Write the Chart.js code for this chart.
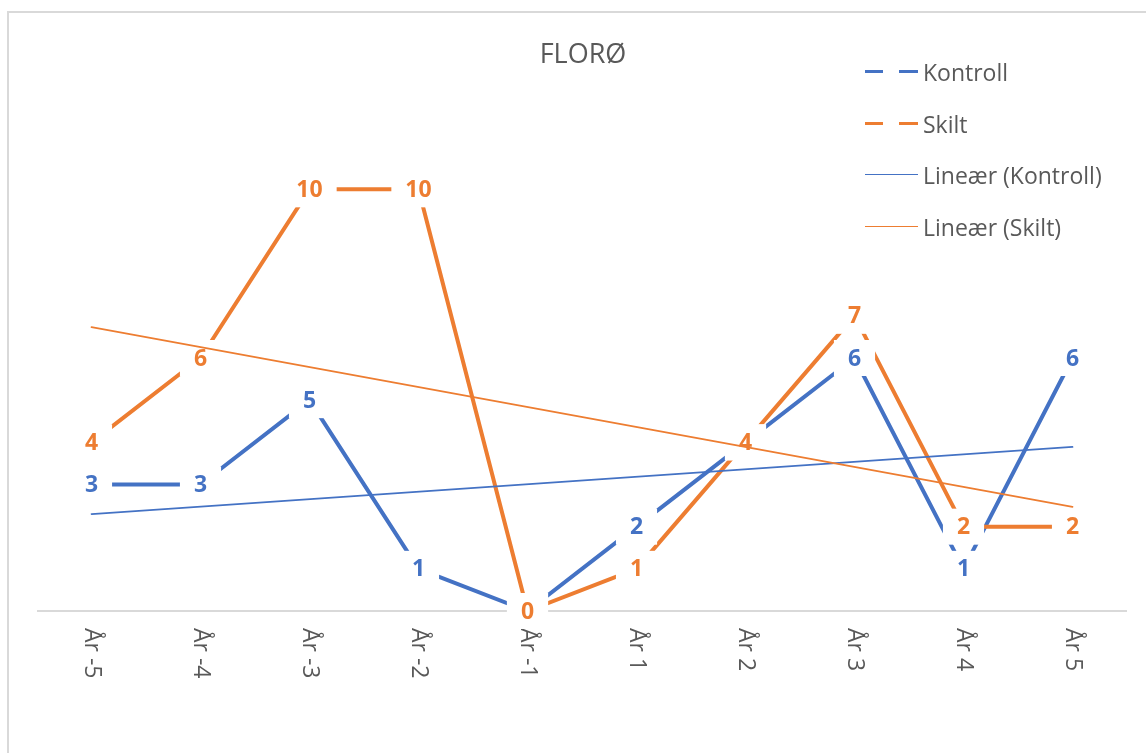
<!DOCTYPE html>
<html>
<head>
<meta charset="utf-8">
<title>FLORØ</title>
<script src="https://cdn.jsdelivr.net/npm/chart.js@4"></script>
<style>
    body { margin: 0; background: #fff; overflow: hidden; }
    #wrap { position: relative; width: 1146px; height: 753px; }
    #frame {
        position: absolute; left: 7px; top: 11px; width: 1150px; height: 760px;
        border-left: 2px solid #d9d9d9; border-top: 2px solid #d9d9d9;
    }
    #chart { position: absolute; left: 0; top: 0; }
    #title {
        position: absolute; left: 483px; width: 200px; top: 34px; text-align: center;
        font: 27px "Open Sans", sans-serif; color: #595959;
    }
    .leg {
        position: absolute; left: 865px; height: 30px; display: flex; align-items: center;
        font: 23px "Open Sans", sans-serif; color: #595959; white-space: nowrap;
    }
    .sample { position: relative; width: 53px; height: 30px; margin-right: 5px; }
    .sample span { position: absolute; top: 50%; }
</style>
</head>
<body>
<div id="wrap">
    <div id="frame"></div>
    <canvas id="chart" width="1146" height="753"></canvas>
    <div id="title">FLORØ</div>
    <div id="legend"></div>
</div>
<script>
const years = ['År -5', 'År -4', 'År -3', 'År -2', 'År -1', 'År 1', 'År 2', 'År 3', 'År 4', 'År 5'];
const kontroll = [3, 3, 5, 1, 0, 2, 4, 6, 1, 6];
const skilt = [4, 6, 10, 10, 0, 1, 4, 7, 2, 2];
// trend lines: value at first and last year
const trendKontroll = [2.3, 3.89];
const trendSkilt = [6.73, 2.47];

const blue = '#4472c4';
const orange = '#ed7d31';
const grey = '#595959';

function endpoints(vals) {
    return [{ x: years[0], y: vals[0] }, { x: years[years.length - 1], y: vals[1] }];
}

// Excel style: white box behind every value, axis line, rotated year labels
const excelLook = {
    id: 'excelLook',
    beforeDatasetsDraw(chart) {
        const ctx = chart.ctx;
        const xs = chart.scales.x;
        const y0 = chart.scales.y.getPixelForValue(0);
        ctx.save();
        ctx.strokeStyle = '#d9d9d9';
        ctx.lineWidth = 2;
        ctx.beginPath();
        ctx.moveTo(chart.chartArea.left, y0);
        ctx.lineTo(chart.chartArea.right, y0);
        ctx.stroke();

        ctx.fillStyle = grey;
        ctx.font = '23px "Open Sans"';
        ctx.textAlign = 'left';
        ctx.textBaseline = 'middle';
        years.forEach((lbl, i) => {
            ctx.save();
            ctx.translate(xs.getPixelForTick(i), y0 + 17);
            ctx.rotate(Math.PI / 2);
            ctx.fillText(lbl, 0, 0);
            ctx.restore();
        });
        ctx.restore();
    },
    afterDatasetDraw(chart, args) {
        if (args.index !== 1) return;
        [0, 1].forEach(di => {
            const ds = chart.data.datasets[di];
            const meta = chart.getDatasetMeta(di);
            const ctx = chart.ctx;
            ctx.save();
            ctx.font = 'bold 23px "Open Sans"';
            ctx.textAlign = 'center';
            ctx.textBaseline = 'middle';
            meta.data.forEach((pt, i) => {
                const txt = String(ds.data[i]);
                const w = ctx.measureText(txt).width;
                ctx.fillStyle = '#fff';
                ctx.fillRect(pt.x - w / 2 - 14, pt.y - 18, w + 28, 36);
                ctx.fillStyle = ds.borderColor;
                ctx.fillText(txt, pt.x, pt.y + 1);
            });
            ctx.restore();
        });
    }
};

const chart = new Chart(document.getElementById('chart'), {
    type: 'line',
    data: {
        labels: years,
        datasets: [
            { label: 'Kontroll', data: kontroll, borderColor: blue, borderWidth: 4, order: 3 },
            { label: 'Skilt', data: skilt, borderColor: orange, borderWidth: 4, order: 2 },
            { label: 'Lineær (Kontroll)', data: endpoints(trendKontroll), borderColor: blue, borderWidth: 1.75, order: 1 },
            { label: 'Lineær (Skilt)', data: endpoints(trendSkilt), borderColor: orange, borderWidth: 1.75, order: 0 }
        ]
    },
    options: {
        responsive: false,
        animation: false,
        layout: { padding: { left: 37, right: 19, top: 105, bottom: 142 } },
        elements: {
            point: { radius: 0, hoverRadius: 0 },
            line: { tension: 0, borderCapStyle: 'round', borderJoinStyle: 'round' }
        },
        plugins: {
            legend: { display: false },
            title: { display: false },
            tooltip: { enabled: false }
        },
        scales: {
            x: { type: 'category', offset: true, display: false },
            y: { min: 0, max: 12, display: false }
        }
    },
    plugins: [excelLook]
});

// legend on the right, the first two with a gap where the value label sits
const legendTops = [72, 124, 175, 227];
const legendEl = document.getElementById('legend');
chart.data.datasets.forEach((ds, i) => {
    const item = document.createElement('div');
    item.className = 'leg';
    item.style.top = (legendTops[i] - 15) + 'px';
    const sample = document.createElement('div');
    sample.className = 'sample';
    if (i < 2) {
        sample.innerHTML =
            `<span style="left:0;width:18px;border-top:3.5px solid ${ds.borderColor};margin-top:-2px"></span>` +
            `<span style="left:34px;width:19px;border-top:3.5px solid ${ds.borderColor};margin-top:-2px"></span>`;
    } else {
        sample.innerHTML = `<span style="left:0;width:53px;border-top:1.75px solid ${ds.borderColor};margin-top:-1px"></span>`;
    }
    item.appendChild(sample);
    item.appendChild(document.createTextNode(ds.label));
    legendEl.appendChild(item);
});
</script>
</body>
</html>
